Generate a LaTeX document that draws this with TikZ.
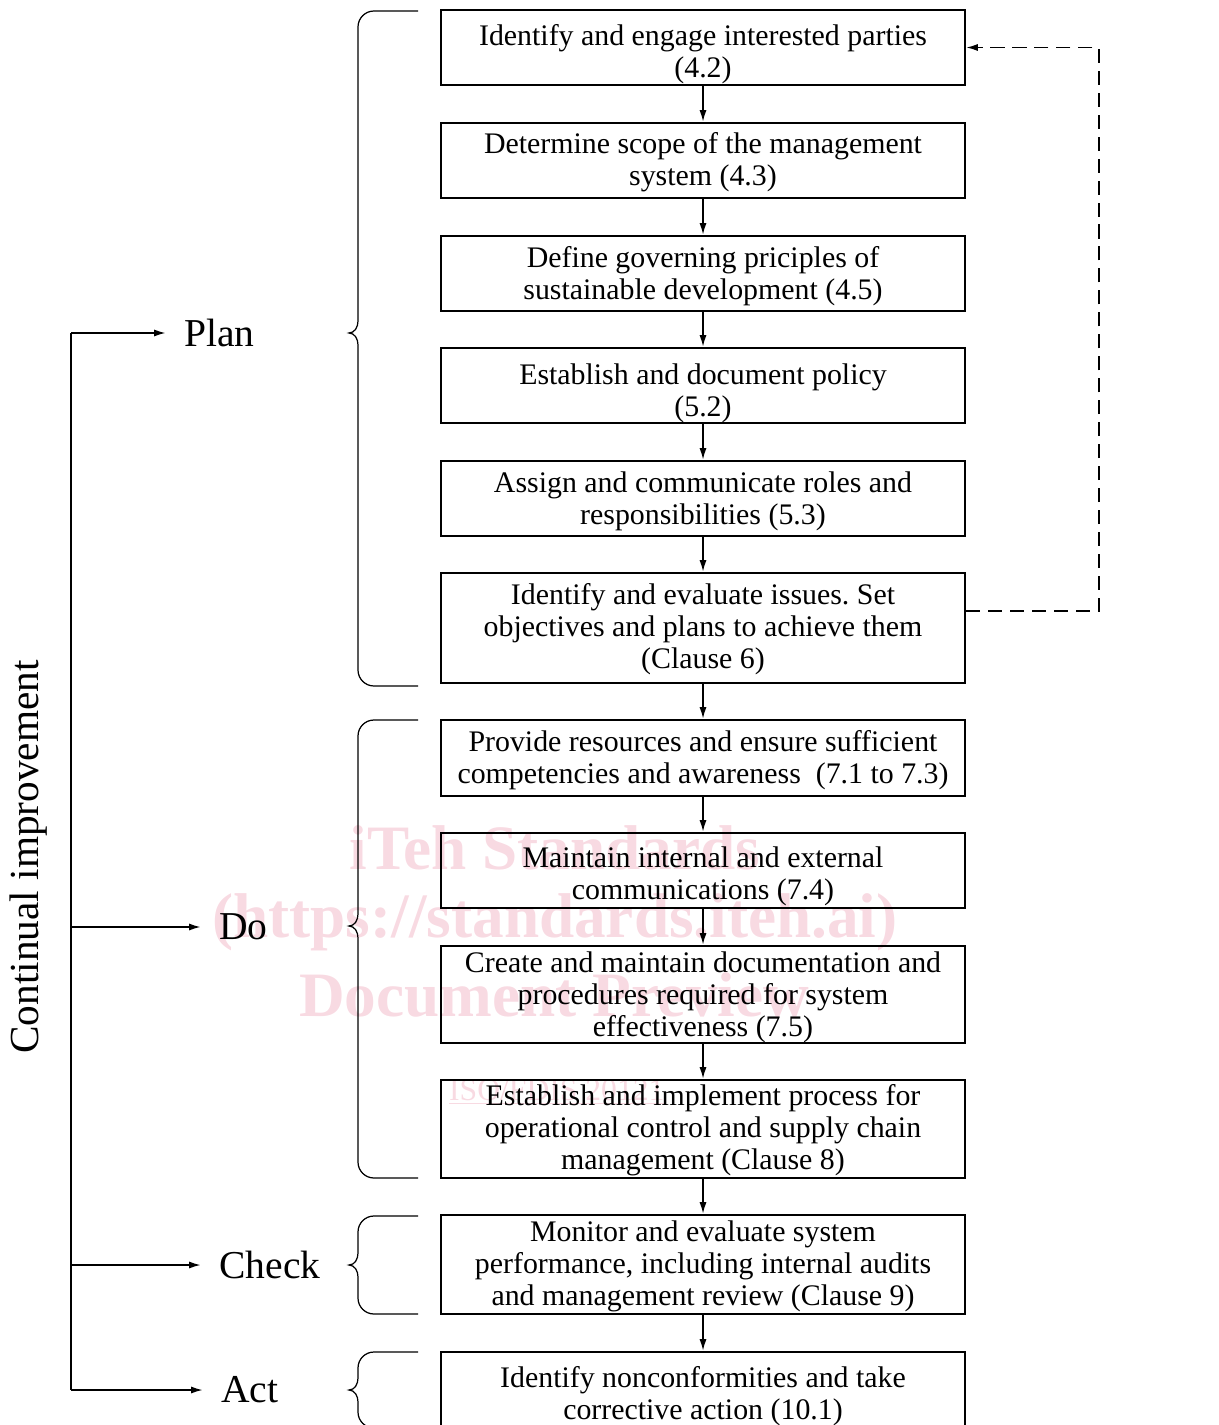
\documentclass[tikz,border=0pt]{standalone}
\usepackage{fontspec}
\setmainfont{Liberation Serif}
\usetikzlibrary{arrows.meta}
\frenchspacing

\definecolor{wmpink}{RGB}{248,218,226}

% curly bracket left of a phase: #1 top, #2 tip, #3 bottom
\newcommand{\phasebrace}[3]{%
  \draw[phbrace] (418,#1) -- (374,#1) to[out=180,in=90] (358,#1+16)
    -- (358,#2-12) to[out=270,in=0] (349,#2) to[out=0,in=90] (358,#2+12)
    -- (358,#3-16) to[out=270,in=180] (374,#3) -- (418,#3);}

\begin{document}
\begin{tikzpicture}[x=0.02cm,y=-0.02cm,
    procbox/.style={draw,line width=1.6pt,minimum width=10.48cm,inner sep=0pt},
    steptext/.style={align=center,inner sep=0pt,font=\fontsize{17}{18.2}\selectfont},
    flow/.style={line width=0.8pt,-{Latex[length=6.5pt,width=4pt]}},
    feedback/.style={flow,dash pattern=on 8pt off 4.5pt},
    phlabel/.style={inner sep=0pt,anchor=west,font=\fontsize{22.5}{27}\selectfont},
    phbrace/.style={line width=0.7pt},
    wmark/.style={text=wmpink,font=\bfseries\fontsize{36}{40}\selectfont}]
	\useasboundingbox (0,0) rectangle (1218,1425);
	\clip (0,0) rectangle (1218,1425);

	% watermark
	\node[wmark] (wm1) at (555,848) {iTeh Standards};
	\node[wmark] (wm2) at (555,922) {(https://standards.iteh.ai)};
	\node[wmark] (wm3) at (554,995) {Document Preview};
	\node[text=wmpink,anchor=west,font=\fontsize{18}{20}\selectfont] (wm4) at (443,1092) {\underline{ISO/FDIS 20121}};

	% process steps
	\node[procbox,minimum height=1.5cm,label={[steptext,yshift=-0.14cm]center:{Identify and engage interested parties\\(4.2)}}] (b1) at (703,47.5) {};
	\node[procbox,minimum height=1.5cm,label={[steptext,yshift=-0.04cm]center:{Determine scope of the management\\system (4.3)}}] (b2) at (703,160.5) {};
	\node[procbox,minimum height=1.5cm,label={[steptext,yshift=-0.06cm]center:{Define governing priciples of\\sustainable development (4.5)}}] (b3) at (703,273.5) {};
	\node[procbox,minimum height=1.5cm,label={[steptext,yshift=-0.16cm]center:{Establish and document policy\\(5.2)}}] (b4) at (703,385.5) {};
	\node[procbox,minimum height=1.5cm,label={[steptext,yshift=-0.06cm]center:{Assign and communicate roles and\\responsibilities (5.3)}}] (b5) at (703,498.5) {};
	\node[procbox,minimum height=2.2cm,label={[steptext,yshift=-0.02cm]center:{Identify and evaluate issues. Set\\objectives and plans to achieve them\\(Clause 6)}}] (b6) at (703,628) {};
	\node[procbox,minimum height=1.52cm,label={[steptext,yshift=-0.04cm]center:{Provide resources and ensure sufficient\\competencies and awareness~ (7.1 to 7.3)}}] (b7) at (703,758) {};
	\node[procbox,minimum height=1.5cm,label={[steptext,yshift=-0.12cm]center:{Maintain internal and external\\communications (7.4)}}] (b8) at (703,870.5) {};
	\node[procbox,minimum height=1.94cm,label={[steptext,yshift=-0.06cm]center:{Create and maintain documentation and\\procedures required for system\\effectiveness (7.5)}}] (b9) at (703,994.5) {};
	\node[procbox,minimum height=1.96cm,label={[steptext,yshift=-0.02cm]center:{Establish and implement process for\\operational control and supply chain\\management (Clause 8)}}] (b10) at (703,1129) {};
	\node[procbox,minimum height=1.98cm,label={[steptext,yshift=-0.04cm]center:{Monitor and evaluate system\\performance, including internal audits\\and management review (Clause 9)}}] (b11) at (703,1264.5) {};
	\node[procbox,minimum height=1.5cm,label={[steptext,yshift=-0.14cm]center:{Identify nonconformities and take\\corrective action (10.1)}}] (b12) at (703,1389.5) {};

	\foreach \a/\b in {b1/b2,b2/b3,b3/b4,b4/b5,b5/b6,b6/b7,b7/b8,b8/b9,b9/b10,b10/b11,b11/b12}
		\draw[flow] (\a) -- (\b);

	% back to the start
	\coordinate (fb) at (1099,47.5);
	\draw[feedback] ([yshift=0.34cm]b6.east) -| (fb) -- (b1.east);

	% phases
	\phasebrace{11}{333}{686}
	\phasebrace{720}{926}{1178}
	\phasebrace{1216}{1265}{1314}
	\phasebrace{1352}{1390}{1428}

	\node[phlabel] (plan) at (184,333) {Plan};
	\node[phlabel] (do) at (219,927) {Do};
	\node[phlabel] (check) at (219,1265) {Check};
	\node[phlabel] (act) at (221,1390) {Act};

	\node[rotate=90,font=\fontsize{23.5}{27}\selectfont] (ci) at (29,857) {Continual improvement};

	\coordinate (sPlan) at (71,333);
	\coordinate (sDo) at (71,927);
	\coordinate (sCheck) at (71,1265);
	\coordinate (sAct) at (71,1390);
	\draw[line width=0.8pt] (sPlan) -- (sAct);
	\draw[flow,shorten >=10.5pt] (sPlan) -- (plan.west);
	\draw[flow,shorten >=10.5pt] (sDo) -- (do.west);
	\draw[flow,shorten >=10.5pt] (sCheck) -- (check.west);
	\draw[flow,shorten >=10.5pt] (sAct) -- (act.west);
\end{tikzpicture}
\end{document}
